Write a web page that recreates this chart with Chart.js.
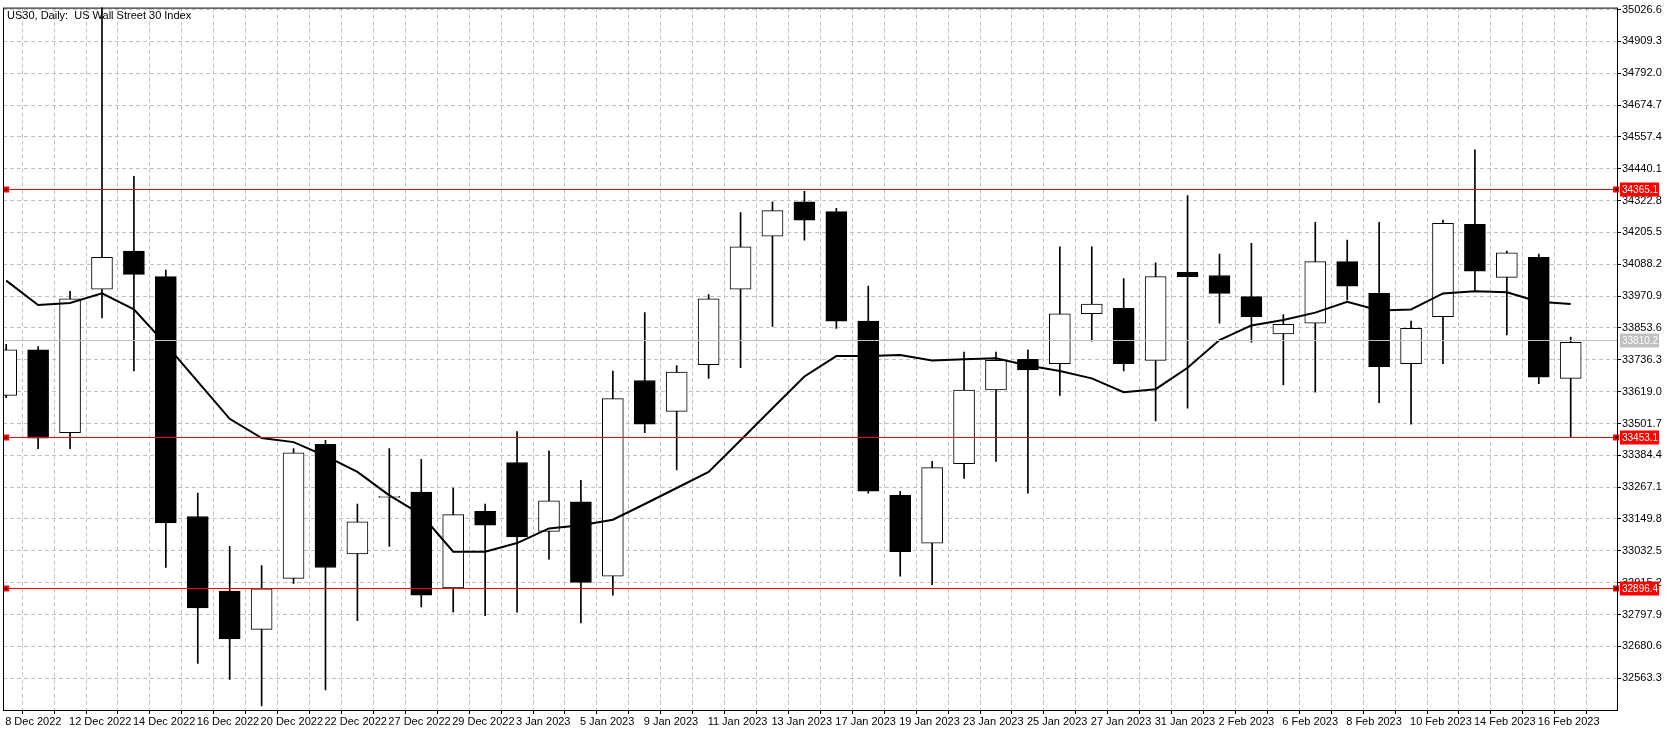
<!DOCTYPE html>
<html>
<head>
<meta charset="utf-8">
<script src="https://cdn.jsdelivr.net/npm/chart.js@4/dist/chart.umd.min.js"></script>
<style>
  html, body { margin: 0; padding: 0; background: #fff; overflow: hidden; }
  #wrap { width: 1670px; height: 731px; }
</style>
</head>
<body>
<div id="wrap"><canvas id="chart"></canvas></div>
<script>
const dates = ['8 Dec 2022','9 Dec 2022','12 Dec 2022','13 Dec 2022','14 Dec 2022','15 Dec 2022','16 Dec 2022','19 Dec 2022','20 Dec 2022','21 Dec 2022',
  '22 Dec 2022','23 Dec 2022','27 Dec 2022','28 Dec 2022','29 Dec 2022','30 Dec 2022','3 Jan 2023','4 Jan 2023','5 Jan 2023','6 Jan 2023',
  '9 Jan 2023','10 Jan 2023','11 Jan 2023','12 Jan 2023','13 Jan 2023','16 Jan 2023','17 Jan 2023','18 Jan 2023','19 Jan 2023','20 Jan 2023',
  '23 Jan 2023','24 Jan 2023','25 Jan 2023','26 Jan 2023','27 Jan 2023','30 Jan 2023','31 Jan 2023','1 Feb 2023','2 Feb 2023','3 Feb 2023',
  '6 Feb 2023','7 Feb 2023','8 Feb 2023','9 Feb 2023','10 Feb 2023','13 Feb 2023','14 Feb 2023','15 Feb 2023','16 Feb 2023','17 Feb 2023'];

const opens  = [33605,33773,33468,33997,34137,34043,33159,32884,32743,32931,33425,33021,33229,33249,32896,33178,33358,33104,33213,32939,
  33660,33546,33718,33997,34192,34318,34282,33879,33237,33061,33354,33625,33738,33722,33906,33926,33734,34059,34047,33969,
  33832,33871,34098,33981,33722,33895,34235,34040,34114,33668];
const highs  = [33793,33785,33989,35040,34412,34067,33245,33049,32978,33409,33440,33205,33409,33370,33264,33205,33472,33401,33292,33695,
  33910,33715,33977,34279,34318,34357,34294,34008,33252,33362,33765,33765,33773,34153,34153,34036,34094,34341,34126,34165,
  33903,34243,34177,34243,33879,34251,34510,34137,34126,33820];
const lows   = [33597,33409,33409,33891,33695,32971,32618,32559,32461,32912,32520,32775,33049,32826,32806,32794,32806,33002,32767,32869,
  33468,33331,33668,33707,33859,34177,33852,33245,32939,32908,33299,33362,33245,33605,33805,33695,33511,33558,33871,33801,
  33644,33617,33957,33578,33499,33722,33989,33828,33648,33452];
const closes = [33773,33448,33961,34114,34051,33135,32822,32708,32892,33394,32971,33139,33233,32869,33166,33127,33084,33217,32916,33593,
  33499,33691,33961,34153,34286,34251,33879,33252,33029,33339,33625,33734,33699,33906,33942,33722,34043,34043,33981,33895,
  33867,34098,34008,33711,33852,34239,34063,34130,33672,33801];
const maValues = [34028,33938,33946,33981,33922,33793,33656,33519,33448,33433,33382,33323,33237,33166,33029,33029,33061,33115,33127,33147,
  33205,33264,33323,33440,33558,33675,33750,33750,33754,33734,33738,33742,33715,33695,33668,33617,33628,33707,33809,33863,
  33883,33910,33950,33918,33922,33981,33989,33985,33950,33942];

const levels = [34365.1, 33453.1, 32896.4];
const lastPrice = 33810.2;
const yTicks = [35026.6,34909.3,34792.0,34674.7,34557.4,34440.1,34322.8,34205.5,34088.2,33970.9,33853.6,33736.3,33619.0,33501.7,
  33384.4,33267.1,33149.8,33032.5,32915.2,32797.9,32680.6,32563.3];

const FONT = '"Liberation Sans", Arial, sans-serif';

const frame = {
  id: 'frame',
  afterDatasetsDraw(chart) {
    const { ctx, chartArea: a, scales: { x, y } } = chart;
    ctx.save();
    const drawLevel = (v, col, marker) => {
      const py = Math.round(y.getPixelForValue(v)) + 0.5;
      ctx.strokeStyle = col; ctx.lineWidth = 1; ctx.setLineDash([]);
      ctx.beginPath(); ctx.moveTo(a.left, py); ctx.lineTo(a.right, py); ctx.stroke();
      if (marker) {
        [a.left + 1, a.right - 3].forEach(mx => {
          ctx.fillStyle = '#ff0000'; ctx.fillRect(mx - 1, py - 3, 6, 6);
          ctx.fillStyle = '#000'; ctx.fillRect(mx + 1, py - 1, 2, 2);
        });
      }
      ctx.fillStyle = col;
      ctx.fillRect(a.right + 3, py - 7, 39, 14);
      ctx.fillStyle = '#fff'; ctx.font = '10px ' + FONT;
      ctx.textBaseline = 'middle'; ctx.textAlign = 'left';
      ctx.fillText(v.toFixed(1), a.right + 5, py + 1);
    };
    drawLevel(lastPrice, '#c0c0c0', false);
    levels.forEach(v => drawLevel(v, '#ff0000', true));
    ctx.strokeStyle = '#000'; ctx.lineWidth = 1;
    ctx.strokeRect(a.left + 0.5, a.top + 0.5, a.right - a.left, a.bottom - a.top);
    ctx.fillStyle = '#000'; ctx.font = '11px ' + FONT;
    ctx.textAlign = 'left'; ctx.textBaseline = 'top';
    ctx.fillText('US30, Daily:  US Wall Street 30 Index', a.left + 4, a.top + 3);
    dates.forEach((d, i) => {
      if (i % 2) return;
      const px = x.getPixelForValue(i);
      ctx.fillText(d, Math.max(a.left, px - 1), a.bottom + 6);
    });
    ctx.restore();
  }
};

new Chart(document.getElementById('chart'), {
  data: {
    datasets: [
      {
        type: 'bar', order: 3, grouped: false,
        data: dates.map((d, i) => ({ x: i, y: [lows[i], highs[i]] })),
        backgroundColor: '#000', barThickness: 1, borderWidth: 0
      },
      {
        type: 'bar', order: 2, grouped: false,
        data: dates.map((d, i) => ({ x: i, y: [opens[i], closes[i]] })),
        backgroundColor: dates.map((d, i) => closes[i] >= opens[i] ? '#fff' : '#000'),
        borderColor: '#000', borderWidth: 1, borderSkipped: false, barThickness: 21
      },
      {
        type: 'line', order: 1,
        data: dates.map((d, i) => ({ x: i, y: maValues[i] })),
        borderColor: '#000', borderWidth: 2, pointRadius: 0, tension: 0
      }
    ]
  },
  options: {
    responsive: true, maintainAspectRatio: false, animation: false,
    layout: { padding: { left: 3, top: 3, right: 0, bottom: 0 } },
    plugins: { legend: { display: false }, tooltip: { enabled: false } },
    scales: {
      x: {
        type: 'linear', offset: false, min: -0.1, max: 50.45,
        afterBuildTicks: s => { s.ticks = dates.map((d, i) => ({ value: i })).concat([{ value: 50 }]); },
        afterFit: s => { s.height = 21; },
        grid: { color: '#c0c0c0', tickLength: 4, drawTicks: true, tickColor: '#000' },
        border: { display: false, dash: [4, 3] },
        ticks: { display: true, color: 'rgba(0,0,0,0)', font: { size: 1 }, callback: () => '' }
      },
      y: {
        position: 'right', min: 32446, max: 35034,
        afterBuildTicks: s => { s.ticks = yTicks.map(v => ({ value: v })); },
        afterFit: s => { s.width = 53; },
        grid: { color: '#c0c0c0', tickLength: 4, tickColor: '#000' },
        border: { display: false, dash: [4, 3] },
        ticks: {
          color: '#000', padding: 1, font: { family: FONT, size: 11 },
          callback: v => v.toFixed(1)
        }
      }
    }
  },
  plugins: [frame]
});
</script>
</body>
</html>
